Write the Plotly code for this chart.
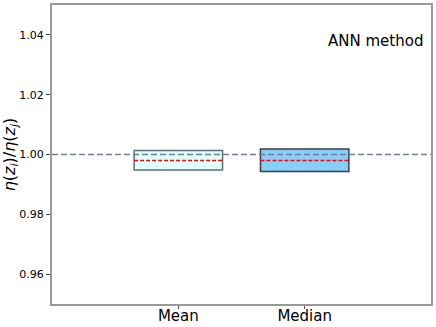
import plotly.graph_objects as go

# box statistics
categories = ["Mean", "Median"]
positions = [1, 2]
box_low = [0.99485, 0.9943]
box_high = [1.0013, 1.0018]
centre = [0.998, 0.998]
fills = ["#e0ffff", "#87cefa"]
edges = ["#5f6f6f", "#3a3f44"]
reference_level = 1.0
box_width = 0.7

fig = go.Figure()

for pos, lo, hi, fc, ec in zip(positions, box_low, box_high, fills, edges):
    fig.add_trace(go.Bar(
        x=[pos], y=[hi - lo], base=[lo], width=box_width,
        marker=dict(color=fc, line=dict(color=ec, width=1.5)),
        showlegend=False, hoverinfo="skip",
    ))

for pos, c in zip(positions, centre):
    fig.add_trace(go.Scatter(
        x=[pos - box_width / 2, pos + box_width / 2], y=[c, c], mode="lines",
        line=dict(color="red", width=1.3, dash="4px,2px"),
        showlegend=False, hoverinfo="skip",
    ))

fig.add_hline(y=reference_level, line=dict(color="#708090", width=1.3, dash="6px,3px"))

fig.add_annotation(
    text="ANN method", xref="paper", yref="paper", x=0.985, y=0.88,
    xanchor="right", yanchor="middle", showarrow=False,
    font=dict(size=15, color="black"),
)

fig.update_layout(
    width=436, height=327,
    margin=dict(l=52, r=5, t=5, b=23),
    plot_bgcolor="white", paper_bgcolor="white",
    font=dict(family="DejaVu Sans", color="black"),
    barmode="overlay",
)
fig.update_xaxes(
    range=[0, 3], tickvals=positions, ticktext=categories,
    tickfont=dict(size=15), ticks="outside", ticklen=3, tickcolor="#444",
    ticklabelstandoff=-6,
    showgrid=False, zeroline=False, automargin=False,
    showline=True, linecolor="#999", linewidth=2, mirror=True,
)
fig.update_yaxes(
    range=[0.95, 1.05], tickvals=[0.96, 0.98, 1.00, 1.02, 1.04],
    ticktext=["0.96", "0.98", "1.00", "1.02", "1.04"],
    tickfont=dict(size=11), ticks="outside", ticklen=4, tickcolor="#444",
    showgrid=False, zeroline=False, automargin=False,
    showline=True, linecolor="#999", linewidth=2, mirror=True,
    title=dict(text="<i>η</i>(<i>z</i><sub><i>i</i></sub>)/<i>η</i>(<i>z</i><sub><i>j</i></sub>)",
               font=dict(size=16), standoff=4),
)

# drop the page's default body margin so the figure sits at the window corner
fig.write_html("out.html", config={"displayModeBar": False},
               post_script="document.body.style.margin='0';")
